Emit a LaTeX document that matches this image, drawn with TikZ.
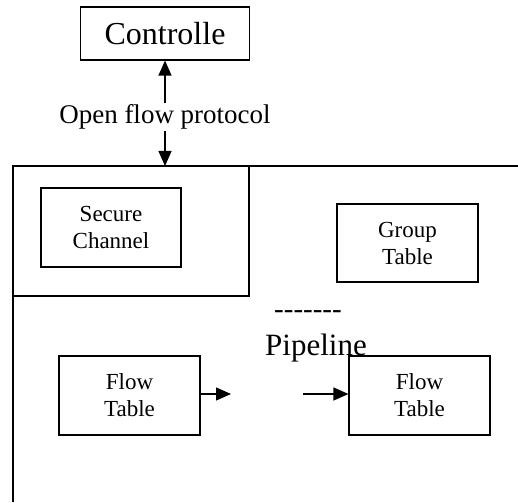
\documentclass[tikz,border=0pt]{standalone}
\usepackage{fontspec}
\setmainfont{Liberation Serif}
\usetikzlibrary{arrows.meta}
\begin{document}
\begin{tikzpicture}[x=1pt,y=-1pt,line width=1.2pt,>={Triangle[length=15pt,width=13pt]},
    box/.style={draw,rectangle,inner sep=0pt,align=center,minimum width=141pt,minimum height=79pt,font=\fontsize{23}{27}\selectfont}]
    \useasboundingbox (0,0) rectangle (518,502);

    % draw the controller and the protocol link
    \node[draw,inner sep=0pt,minimum width=169pt,minimum height=53pt,font=\fontsize{32}{36}\selectfont] (ctrl) at (165,33.5) {Controlle};
    \node[inner sep=1pt,font=\fontsize{27}{30}\selectfont] (proto) at (165,117) {Open flow protocol};
    \coordinate (top) at (165,166);
    \draw[->] (proto) -- (ctrl);
    \draw[->] (proto) -- (top);

    % draw the switch frame
    \draw (13,502) -- (13,166) -- (518,166);
    \draw (13,166) rectangle (249,296);

    % boxes inside the switch
    \node[box,minimum width=140pt] (sec) at (111,227.5) {Secure\\Channel};
    \node[box,minimum height=78pt] (grp) at (407.5,243) {Group\\Table};
    \node[box] (ft1) at (129.5,395.5) {Flow\\Table};
    \node[box] (ft2) at (419.5,395.5) {Flow\\Table};

    % text of the pipeline
    \node[inner sep=0pt,font=\fontsize{29}{32}\selectfont] (gap) at (308,315) {\mbox{-}\mbox{-}\mbox{-}\mbox{-}\mbox{-}\mbox{-}\mbox{-}};
    \node[inner sep=0pt,anchor=base,font=\fontsize{31}{34}\selectfont] (pipe) at (316,355) {Pipeline};

    % arrows between the flow tables
    \coordinate (out) at (231,394);
    \coordinate (in) at (303,394);
    \draw[->] (ft1.east |- out) -- (out);
    \draw[->] (in) -- (ft2.west |- in);
\end{tikzpicture}
\end{document}
